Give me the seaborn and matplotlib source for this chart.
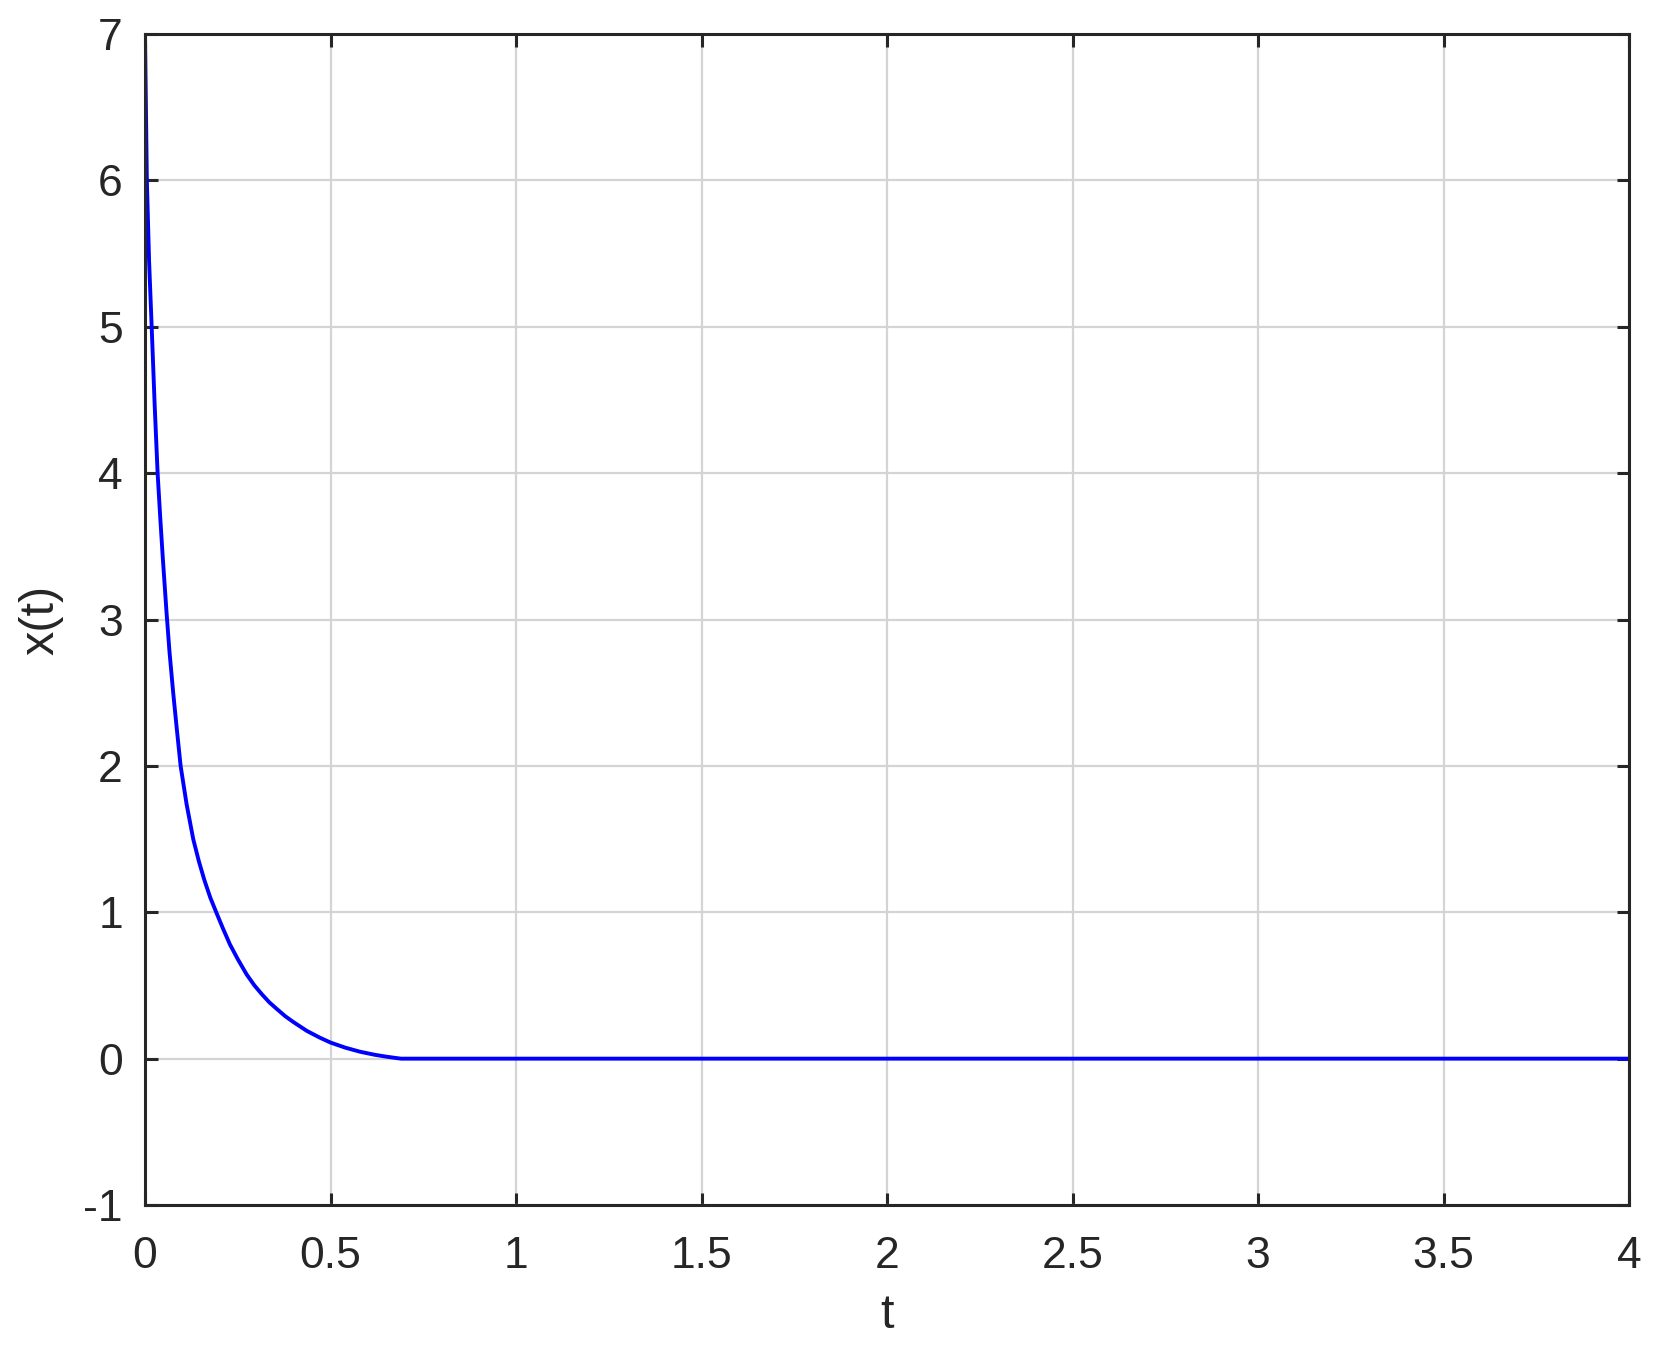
import matplotlib
matplotlib.use("Agg")
import matplotlib.pyplot as plt
import seaborn as sns
import pandas as pd

# values
t_vals = [0.0, 0.005, 0.011, 0.018, 0.026, 0.034, 0.041, 0.048, 0.058, 0.066, 0.076,
          0.085, 0.096, 0.112, 0.130, 0.145, 0.160, 0.176, 0.192, 0.210, 0.229, 0.250,
          0.274, 0.295, 0.315, 0.335, 0.355, 0.378, 0.400, 0.436, 0.470, 0.500, 0.540,
          0.580, 0.620, 0.652, 0.675, 0.690, 1.0, 2.0, 3.0, 4.0]
x_vals = [7.0, 6.0, 5.45, 5.0, 4.47, 4.0, 3.7, 3.42, 3.05, 2.78, 2.5,
          2.27, 2.0, 1.74, 1.5, 1.35, 1.22, 1.1, 1.0, 0.89, 0.78, 0.68,
          0.575, 0.5, 0.44, 0.385, 0.34, 0.29, 0.25, 0.19, 0.145, 0.11, 0.075,
          0.047, 0.026, 0.013, 0.005, 0.0, 0.0, 0.0, 0.0, 0.0]

x_ticks = [0, 0.5, 1, 1.5, 2, 2.5, 3, 3.5, 4]
y_ticks = [-1, 0, 1, 2, 3, 4, 5, 6, 7]

df = pd.DataFrame({"t": t_vals, "x": x_vals})

sns.set_style("ticks")
plt.rcParams['font.family'] = ['Liberation Sans', 'DejaVu Sans']

fig = plt.figure(figsize=(16.59, 13.61), dpi=100)
ax = fig.add_axes([0.0874, 0.1146, 0.8946, 0.8604])

sns.lineplot(data=df, x="t", y="x", color="#0000ff", linewidth=2.8, ax=ax, sort=False)

ax.set_xlim(0, 4)
ax.set_ylim(-1, 7)
ax.set_xticks(x_ticks)
ax.set_yticks(y_ticks)
ax.set_xticklabels(["%g" % v for v in x_ticks])
ax.set_yticklabels(["%g" % v for v in y_ticks])

ax.grid(True, color="#d4d4d4", linewidth=1.6)
ax.set_axisbelow(True)

dark = "#262626"
for s in ax.spines.values():
    s.set_visible(True)
    s.set_color(dark)
    s.set_linewidth(2.2)

ax.tick_params(direction="in", length=9, width=2.2, color=dark, labelcolor=dark,
               labelsize=32, top=True, right=True)
ax.tick_params(axis="x", pad=22)
ax.tick_params(axis="y", pad=16)

ax.set_xlabel("t", fontsize=35, color=dark, labelpad=12)
ax.set_ylabel("x(t)", fontsize=35, color=dark, labelpad=14)

fig.savefig("out.png", dpi=100)
